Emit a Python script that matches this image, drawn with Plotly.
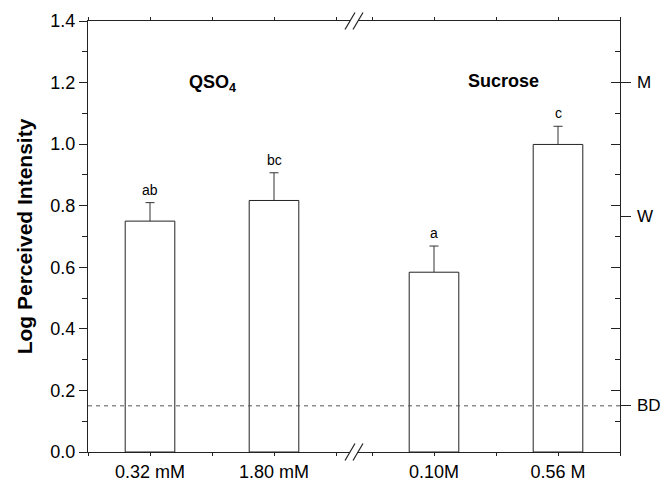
import plotly.graph_objects as go

# ---- data ----
left_cats = ["0.32 mM", "1.80 mM"]
left_vals = [0.750, 0.817]
left_err = [0.060, 0.090]
left_letters = ["ab", "bc"]

right_cats = ["0.10M", "0.56 M"]
right_vals = [0.584, 0.999]
right_err = [0.085, 0.059]
right_letters = ["a", "c"]

group_titles = ["QSO<sub>4</sub>", "Sucrose"]
ref_labels = ["BD", "W", "M"]
ref_values = [0.15, 0.765, 1.20]
y_range = [0, 1.4]

# ---- layout constants (pixels) ----
W, H = 664, 485
ML, MR, MT, MB = 88, 44, 21, 33
PW, PH = W - ML - MR, H - MT - MB
BREAK_L, BREAK_R = 350, 358   # pixel x where the left/right segments end/start
PXU = 124.0                   # pixels per x unit
CAP = 4.5 / PXU               # error-bar cap half width in x units
FONT = "Liberation Sans, Arial, sans-serif"
LC = "#222222"

def px2paper_x(px):
    return (px - ML) / PW

def py2paper_y(py):
    return (H - MB - py) / PH

dom_left = [0, px2paper_x(BREAK_L)]
dom_right = [px2paper_x(BREAK_R), 1]
range_left = [0, (BREAK_L - ML) / PXU]
range_right = [2.0 - (W - MR - BREAK_R) / PXU, 2.0]

pos_left = [i + 0.5 for i in range(len(left_cats))]
pos_right = [i + 0.5 for i in range(len(right_cats))]

fig = go.Figure()

bar_style = dict(marker=dict(color="white", line=dict(color=LC, width=1)),
                 width=0.4, showlegend=False, hoverinfo="skip")

fig.add_trace(go.Bar(x=pos_left, y=left_vals, xaxis="x", yaxis="y", **bar_style))
fig.add_trace(go.Bar(x=pos_right, y=right_vals, xaxis="x2", yaxis="y2", **bar_style))

def err_path(positions, vals, errs):
    xs, ys = [], []
    for p, v, e in zip(positions, vals, errs):
        xs += [p, p, None, p - CAP, p + CAP, None]
        ys += [v, v + e, None, v + e, v + e, None]
    return xs, ys

ex, ey = err_path(pos_left, left_vals, left_err)
fig.add_trace(go.Scatter(x=ex, y=ey, xaxis="x", yaxis="y", mode="lines",
                         line=dict(color="#333333", width=1), showlegend=False, hoverinfo="skip"))
ex, ey = err_path(pos_right, right_vals, right_err)
fig.add_trace(go.Scatter(x=ex, y=ey, xaxis="x2", yaxis="y2", mode="lines",
                         line=dict(color="#333333", width=1), showlegend=False, hoverinfo="skip"))
# invisible trace to activate the inner-tick overlay axis
fig.add_trace(go.Scatter(x=[pos_right[0]], y=[0], xaxis="x2", yaxis="y3",
                         mode="markers", marker=dict(opacity=0), showlegend=False, hoverinfo="skip"))

def xticks(cats):
    vals, texts = [], []
    n = len(cats)
    for k in range(2 * n + 1):
        vals.append(k * 0.5)
        texts.append(cats[(k - 1) // 2] if k % 2 == 1 else "")
    return vals, texts

lv, lt = xticks(left_cats)
rv, rt = xticks(right_cats)

xax_common = dict(showline=True, linecolor=LC, linewidth=1, mirror="ticks",
                  ticks="outside", ticklen=3, tickcolor=LC, showgrid=False, zeroline=False,
                  automargin=False,
                  tickfont=dict(family=FONT, size=18, color="black"), fixedrange=True)

fig.update_layout(
    width=W, height=H,
    margin=dict(l=ML, r=MR, t=MT, b=MB, autoexpand=False),
    paper_bgcolor="white", plot_bgcolor="white",
    font=dict(family=FONT, color="black"),
    xaxis=dict(domain=dom_left, range=range_left, tickvals=lv, ticktext=lt, anchor="y", **xax_common),
    xaxis2=dict(domain=dom_right, range=range_right, tickvals=rv, ticktext=rt, anchor="y2", **xax_common),
    yaxis=dict(range=y_range, anchor="x", showline=True, linecolor=LC, linewidth=1,
               ticks="outside", ticklen=8, tickcolor=LC, dtick=0.2, tickformat=".1f",
               minor=dict(ticks="outside", ticklen=5, dtick=0.1, tickcolor=LC),
               showgrid=False, zeroline=False, automargin=False, fixedrange=True,
               tickfont=dict(family=FONT, size=18, color="black"),
               title=dict(text="<b>Log Perceived Intensity</b>",
                          font=dict(family=FONT, size=21, color="black"), standoff=12)),
    yaxis2=dict(range=y_range, anchor="x2", side="right", showline=True, linecolor=LC, linewidth=1,
                ticks="outside", ticklen=10, tickcolor=LC,
                tickvals=ref_values, showticklabels=False, fixedrange=True,
                showgrid=False, zeroline=False, automargin=False),
    yaxis3=dict(range=y_range, anchor="x2", overlaying="y2", side="right", showline=False,
                ticks="inside", ticklen=9, tickcolor=LC, dtick=0.2, showticklabels=False,
                minor=dict(ticks="inside", ticklen=5, dtick=0.1, tickcolor=LC),
                showgrid=False, zeroline=False, automargin=False, fixedrange=True),
    bargap=0,
)

# right-side reference labels (BD, W, M)
for lab, val in zip(ref_labels, ref_values):
    fig.add_annotation(x=1, y=val, xref="paper", yref="y2", text=lab, showarrow=False,
                       xanchor="left", yanchor="middle", xshift=15,
                       font=dict(family=FONT, size=17, color="black"))

# significance letters
for p, v, e, t in zip(pos_left, left_vals, left_err, left_letters):
    fig.add_annotation(x=p, y=v + e, xref="x", yref="y", text=t, showarrow=False,
                       xanchor="center", yanchor="bottom", yshift=3,
                       font=dict(family=FONT, size=14, color="black"))
for p, v, e, t in zip(pos_right, right_vals, right_err, right_letters):
    fig.add_annotation(x=p, y=v + e, xref="x2", yref="y2", text=t, showarrow=False,
                       xanchor="center", yanchor="bottom", yshift=3,
                       font=dict(family=FONT, size=14, color="black"))

# group titles
fig.add_annotation(x=px2paper_x(212), y=1.2, xref="paper", yref="y", text="<b>" + group_titles[0] + "</b>",
                   showarrow=False, xanchor="center", yanchor="middle", yshift=-1,
                   font=dict(family=FONT, size=18, color="black"))
fig.add_annotation(x=px2paper_x(503), y=1.2, xref="paper", yref="y", text="<b>" + group_titles[1] + "</b>",
                   showarrow=False, xanchor="center", yanchor="middle", yshift=2,
                   font=dict(family=FONT, size=18, color="black"))

# BD dashed reference line
fig.add_shape(type="line", xref="paper", yref="y", x0=0, x1=1, y0=ref_values[0], y1=ref_values[0],
              line=dict(color="#555555", width=1, dash="4px,4px"))

# axis break marks (top and bottom)
for py in (MT, H - MB):
    for cx in (BREAK_L, BREAK_R):
        fig.add_shape(type="line", xref="paper", yref="paper",
                      x0=px2paper_x(cx - 5), x1=px2paper_x(cx + 5),
                      y0=py2paper_y(py + 8.5), y1=py2paper_y(py - 8.5),
                      line=dict(color=LC, width=1.2))

fig.write_html("out.html", post_script="document.body.style.margin='0';",
               config={"displayModeBar": False, "staticPlot": True})
